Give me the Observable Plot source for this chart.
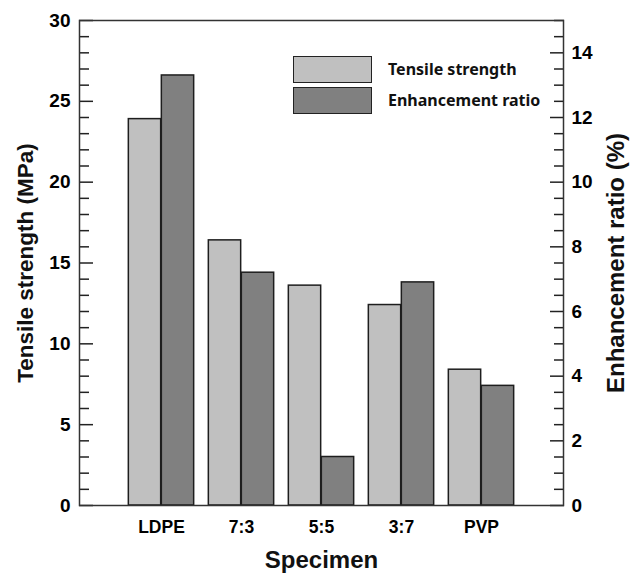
<!DOCTYPE html>
<html>
<head>
<meta charset="utf-8">
<script src="https://cdn.jsdelivr.net/npm/d3@7"></script>
<script src="https://cdn.jsdelivr.net/npm/@observablehq/plot@0.6"></script>
<style>
  html, body { margin: 0; padding: 0; background: #fff; }
  #wrap { position: relative; width: 633px; height: 573px; }
  .leg-box { position: absolute; box-sizing: border-box; width: 79px; height: 27px; border: 1.5px solid #222; }
  .leg-text { position: absolute; font-family: "Noto Sans", "Open Sans", sans-serif; font-weight: bold; font-size: 16px; color: #111; line-height: 20px; white-space: nowrap; }
</style>
</head>
<body>
<div id="wrap"></div>
<script>
const categories = ["LDPE", "7:3", "5:5", "3:7", "PVP"];
const tensileStrength = [23.9, 16.4, 13.6, 12.4, 8.4];   // MPa (left axis)
const enhancementRatio = [13.3, 7.2, 1.5, 6.9, 3.7];     // % (right axis)
const leftTicks = [0, 5, 10, 15, 20, 25, 30];
const rightTicks = [0, 2, 4, 6, 8, 10, 12, 14];
const seriesNames = ["Tensile strength", "Enhancement ratio"];

const leftMax = 30, rightMax = 15;
const k = leftMax / rightMax; // right-axis value -> left-axis units

const data = categories.map((c, i) => ({cat: c, ts: tensileStrength[i], er: enhancementRatio[i]}));
const leftMinor = d3.range(0, leftMax + 1).filter(v => v % 5 !== 0);
const rightMinor = d3.range(0, rightMax + 0.01, 0.5).filter(v => v % 2 !== 0).map(v => v * k);

const W = 633, H = 573, mL = 79, mR = 70, mT = 20, mB = 68;
const step = (W - mL - mR) / (categories.length + 1);
const barW = 33;
const font = "'Liberation Sans', Arial, sans-serif";

const chart = Plot.plot({
  width: W, height: H,
  marginLeft: mL, marginRight: mR, marginTop: mT, marginBottom: mB,
  style: {fontFamily: font, color: "#000", background: "#fff"},
  x: {type: "band", domain: categories, paddingInner: 0, paddingOuter: 0.5, axis: null},
  y: {domain: [0, leftMax], axis: null},
  marks: [
    Plot.barY(data, {x: "cat", y: "ts", fill: "#c0c0c0", stroke: "#1e1e1e", strokeWidth: 1.5,
      insetLeft: step / 2 - barW, insetRight: step / 2}),
    Plot.barY(data, {x: "cat", y: d => d.er * k, fill: "#808080", stroke: "#1e1e1e", strokeWidth: 1.5,
      insetLeft: step / 2, insetRight: step / 2 - barW}),
    // left axis
    Plot.axisY(leftMinor, {anchor: "left", tickSize: -10, text: null, label: null, stroke: "#222", strokeWidth: 1.5}),
    Plot.axisY(leftTicks, {anchor: "left", tickSize: -14, text: null, label: null, stroke: "#222", strokeWidth: 1.5}),
    Plot.axisY(leftTicks, {anchor: "left", tickSize: 0, tickPadding: 9, label: null, fontSize: 19, fontWeight: "bold"}),
    // right axis
    Plot.axisY(rightMinor, {anchor: "right", tickSize: -10, text: null, label: null, stroke: "#222", strokeWidth: 1.5}),
    Plot.axisY(rightTicks.map(v => v * k), {anchor: "right", tickSize: -14, text: null, label: null, stroke: "#222", strokeWidth: 1.5}),
    Plot.axisY(rightTicks.map(v => v * k), {anchor: "right", tickSize: 0, tickPadding: 8, label: null,
      tickFormat: v => String(v / k), fontSize: 19, fontWeight: "bold"}),
    // x axis labels
    Plot.axisX({anchor: "bottom", tickSize: 0, tickPadding: 15, label: null, fontSize: 17.5, fontWeight: "bold"}),
    Plot.frame({stroke: "#333", strokeWidth: 1.5}),
    // axis titles
    Plot.text([seriesNames[0] + " (MPa)"], {frameAnchor: "left", dx: -54, rotate: -90, textAnchor: "middle",
      fontSize: 22.5, fontWeight: "bold", fill: "#111"}),
    Plot.text(["Enhancement ratio (%)"], {frameAnchor: "right", dx: 53, rotate: -90, textAnchor: "middle",
      fontSize: 24, fontWeight: "bold", fill: "#111"}),
    Plot.text(["Specimen"], {frameAnchor: "bottom", dy: 62, fontSize: 24, fontWeight: "bold", fill: "#111"})
  ]
});

const wrap = document.getElementById("wrap");
wrap.appendChild(chart);

// legend overlay
const legendColors = ["#c0c0c0", "#808080"];
seriesNames.forEach((name, i) => {
  const box = document.createElement("div");
  box.className = "leg-box";
  box.style.left = "293px";
  box.style.top = (56 + i * 31) + "px";
  box.style.background = legendColors[i];
  wrap.appendChild(box);
  const t = document.createElement("div");
  t.className = "leg-text";
  t.style.left = "388px";
  t.style.top = (59 + i * 31) + "px";
  t.textContent = name;
  wrap.appendChild(t);
});
</script>
</body>
</html>
